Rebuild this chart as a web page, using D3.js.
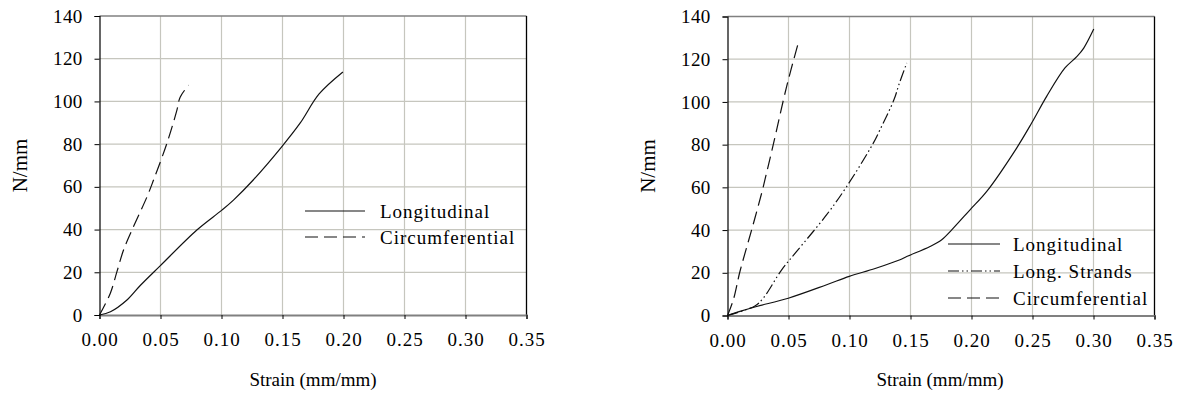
<!DOCTYPE html>
<html>
<head>
<meta charset="utf-8">
<script src="https://cdn.jsdelivr.net/npm/d3@7"></script>
<style>
  html, body { margin: 0; padding: 0; background: #fff; }
  svg { display: block; }
  svg text { font-family: "Liberation Serif", "Times New Roman", Times, "DejaVu Serif", serif !important; fill: #000; }
</style>
</head>
<body>
<svg id="chart" width="1179" height="400"></svg>
<script>
// Tick values shared by both panels
const strainTicks = [0, 0.05, 0.10, 0.15, 0.20, 0.25, 0.30, 0.35];
const loadTicks = [0, 20, 40, 60, 80, 100, 120, 140];

// Panel A: tube tests
const aLongStrain = [0, 0.009, 0.0225, 0.0334, 0.0497, 0.0798, 0.1003, 0.1098, 0.126, 0.149, 0.1644, 0.180, 0.1995];
const aLongLoad   = [0, 1.5, 7.0, 13.8, 23.0, 39.8, 49.1, 53.8, 63.2, 78.5, 89.8, 103.5, 113.8];
const aCircStrain = [0, 0.0088, 0.0143, 0.0197, 0.0266, 0.0389, 0.0443, 0.0552, 0.0634, 0.0661, 0.073];
const aCircLoad   = [0, 10.1, 20.3, 30.4, 39.8, 55.3, 63.2, 80.3, 95.8, 102, 107.6];

// Panel B: tube tests including longitudinal strands
const bLongStrain = [0, 0.0102, 0.0239, 0.0498, 0.0813, 0.0998, 0.121, 0.1414, 0.1469, 0.166, 0.1756, 0.1838, 0.1988, 0.2125, 0.237, 0.2493, 0.2616, 0.2766, 0.2865, 0.292, 0.3002];
const bLongLoad   = [0, 1.9, 4.2, 8.1, 14.4, 18.3, 22.0, 26.1, 27.6, 32.3, 35.5, 40.1, 49.5, 58.1, 78.4, 90.1, 102.6, 115.9, 121.3, 125.2, 134.1];
const bStrandStrain = [0, 0.0225, 0.0293, 0.0444, 0.0567, 0.0813, 0.0977, 0.1195, 0.125, 0.1365, 0.1405, 0.1469];
const bStrandLoad   = [0, 4.5, 8.1, 21.4, 30, 47.2, 60.4, 80.7, 87, 101.1, 108.1, 118.2];
const bCircStrain = [0, 0.0048, 0.0102, 0.0198, 0.028, 0.0307, 0.0375, 0.0485, 0.058];
const bCircLoad   = [0, 7.4, 20.6, 40.1, 57.3, 63.6, 80, 107.3, 127.6];

const seriesNamesA = ["Longitudinal", "Circumferential"];
const seriesNamesB = ["Longitudinal", "Long. Strands", "Circumferential"];

const dashes = {
  "Longitudinal": null,
  "Long. Strands": "11,3,1.5,3,1.5,3",
  "Circumferential": "13,6"
};

const FONT = '"Liberation Serif", "Times New Roman", Times, "DejaVu Serif", serif';

const svg = d3.select("#chart");
svg.append("rect").attr("width", 1179).attr("height", 400).attr("fill", "#fff");

function zip(xs, ys) { return xs.map((x, i) => ({ x, y: ys[i] })); }

function styleText(sel, size, spacing) {
  sel.attr("font-family", FONT)
    .style("font-family", FONT)
    .style("font-size", size + "px")
    .style("letter-spacing", spacing + "px")
    .attr("fill", "#000");
}

function panel(cfg) {
  const x = d3.scaleLinear().domain([0, 0.35]).range([cfg.left, cfg.right]);
  const y = d3.scaleLinear().domain([0, 140]).range([cfg.bottom, cfg.top]);
  const g = svg.append("g");

  // grid
  g.append("g").selectAll("line").data(strainTicks.filter(t => t > 0 && t < 0.35)).join("line")
    .attr("x1", d => x(d)).attr("x2", d => x(d))
    .attr("y1", y(0)).attr("y2", y(140))
    .attr("stroke", "#c6c6be").attr("stroke-width", 1.2);
  g.append("g").selectAll("line").data(loadTicks.filter(t => t > 0 && t < 140)).join("line")
    .attr("x1", x(0)).attr("x2", x(0.35))
    .attr("y1", d => y(d)).attr("y2", d => y(d))
    .attr("stroke", "#c6c6be").attr("stroke-width", 1.2);

  // frame: top grey, right black
  g.append("line").attr("x1", x(0)).attr("x2", x(0.35)).attr("y1", y(140)).attr("y2", y(140))
    .attr("stroke", "#808080").attr("stroke-width", 1.5);
  g.append("line").attr("x1", x(0.35)).attr("x2", x(0.35)).attr("y1", y(140)).attr("y2", y(0))
    .attr("stroke", "#000").attr("stroke-width", 1.3);

  // axes
  const xAxis = d3.axisBottom(x).tickValues(strainTicks).tickFormat(d3.format(".2f"))
    .tickSize(4).tickPadding(14);
  const gx = g.append("g").attr("transform", `translate(0,${y(0)})`).call(xAxis);
  gx.attr("font-family", null).attr("font-size", null);
  gx.select(".domain").attr("stroke", "#808080").attr("stroke-width", 2);
  gx.selectAll(".tick line").attr("stroke", "#000");
  styleText(gx.selectAll("text"), 19, 1);

  const yAxis = d3.axisLeft(y).tickValues(loadTicks).tickSize(5).tickPadding(12);
  const gy = g.append("g").attr("transform", `translate(${x(0)},0)`).call(yAxis);
  gy.attr("font-family", null).attr("font-size", null);
  gy.select(".domain").attr("stroke", "#000").attr("stroke-width", 1.2);
  gy.selectAll(".tick line").attr("stroke", "#000");
  styleText(gy.selectAll("text"), 19, 0.3);

  // axis titles
  styleText(g.append("text").attr("x", cfg.xTitleX).attr("y", 386).attr("text-anchor", "middle")
    .text("Strain (mm/mm)"), 19, 0);
  styleText(g.append("text").attr("transform", `translate(${cfg.yTitleX},${(y(0) + y(140)) / 2}) rotate(-90)`)
    .attr("text-anchor", "middle").text("N/mm"), 21, 0);

  // curves
  const line = d3.line().x(d => x(d.x)).y(d => y(d.y)).curve(d3.curveCatmullRom.alpha(0.5));
  cfg.series.forEach(s => {
    g.append("path").datum(zip(s.xs, s.ys))
      .attr("d", line).attr("fill", "none")
      .attr("stroke", "#111").attr("stroke-width", 1.2)
      .attr("stroke-dasharray", dashes[s.name]);
  });

  // legend
  const lg = g.append("g");
  cfg.legendNames.forEach((name, i) => {
    const ly = cfg.legendY + i * cfg.legendStep;
    lg.append("line").attr("x1", cfg.legendX).attr("x2", cfg.legendX + cfg.legendLen)
      .attr("y1", ly).attr("y2", ly)
      .attr("stroke", "#111").attr("stroke-width", 1.2)
      .attr("stroke-dasharray", dashes[name]);
    styleText(lg.append("text").attr("x", cfg.legendTextX).attr("y", ly + 7).text(name), 19, 1);
  });
}

panel({
  left: 99.5, right: 526.5, top: 16, bottom: 315,
  xTitleX: 313, yTitleX: 27,
  series: [
    { name: "Longitudinal", xs: aLongStrain, ys: aLongLoad },
    { name: "Circumferential", xs: aCircStrain, ys: aCircLoad }
  ],
  legendNames: seriesNamesA,
  legendX: 305, legendLen: 60, legendTextX: 380, legendY: 211, legendStep: 26
});

panel({
  left: 727.5, right: 1154.5, top: 16.5, bottom: 315.5,
  xTitleX: 940, yTitleX: 655,
  series: [
    { name: "Longitudinal", xs: bLongStrain, ys: bLongLoad },
    { name: "Long. Strands", xs: bStrandStrain, ys: bStrandLoad },
    { name: "Circumferential", xs: bCircStrain, ys: bCircLoad }
  ],
  legendNames: seriesNamesB,
  legendX: 948, legendLen: 52, legendTextX: 1013, legendY: 244, legendStep: 27
});
</script>
</body>
</html>
